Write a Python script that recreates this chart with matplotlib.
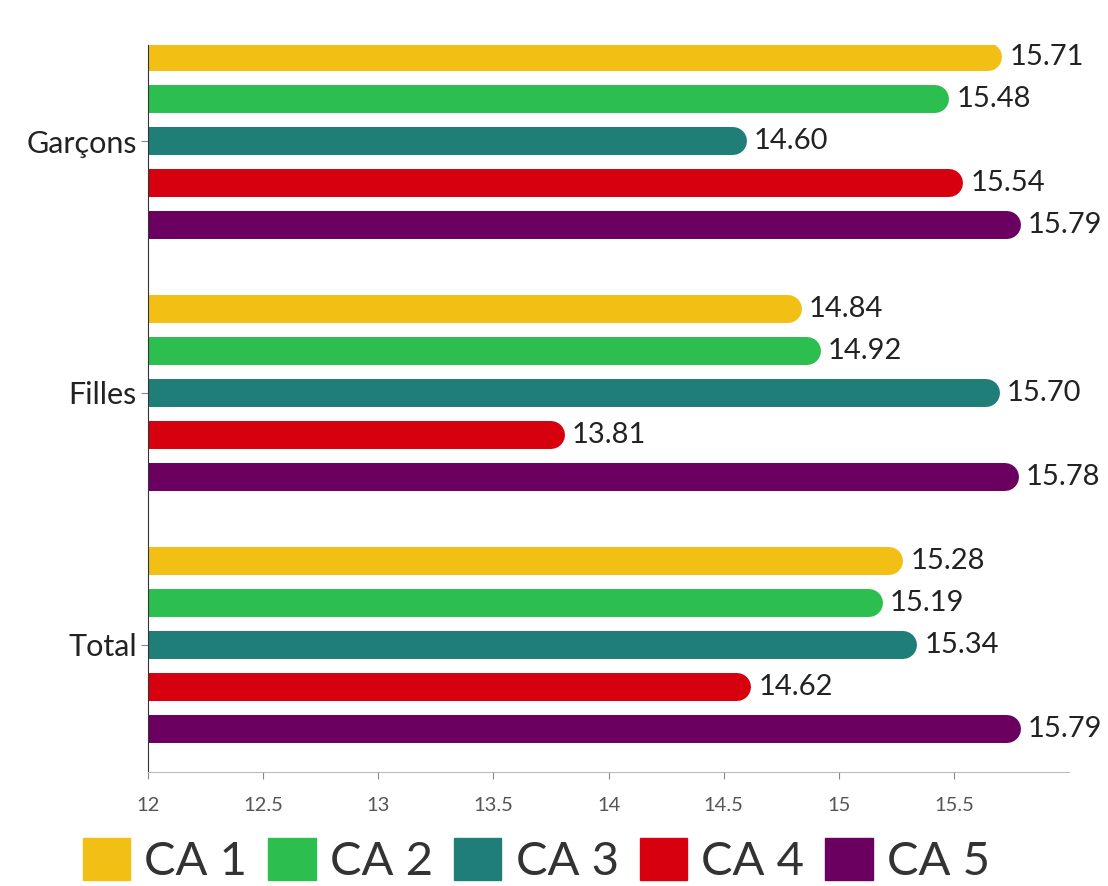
import numpy as np
import matplotlib.pyplot as plt
from matplotlib.patches import Patch

plt.rcParams['font.family'] = ['Lato', 'DejaVu Sans']

groups = ['Garçons', 'Filles', 'Total']
series = ['CA 1', 'CA 2', 'CA 3', 'CA 4', 'CA 5']
colors = ['#F2C014', '#2DBE50', '#1F7F78', '#D7000F', '#6B0060']
values = {
    'CA 1': [15.71, 14.84, 15.28],
    'CA 2': [15.48, 14.92, 15.19],
    'CA 3': [14.60, 15.70, 15.34],
    'CA 4': [15.54, 13.81, 14.62],
    'CA 5': [15.79, 15.78, 15.79],
}
xticks = [12, 12.5, 13, 13.5, 14, 14.5, 15, 15.5]

fig = plt.figure(figsize=(11.08, 8.86), dpi=100)
ax = fig.add_axes([0.1336, 0.1287, 0.8314, 0.8205])
xmin, xmax = 12, 16
ax.set_xlim(xmin, xmax)
ax.set_ylim(2.504, -0.381)

# bar geometry
step = 0.1667
bar_h = 0.111
ax_w_px = 0.8314 * 1108
ax_h_px = 0.8205 * 886
px_per_unit_y = ax_h_px / (2.504 + 0.381)
lw_px = bar_h * px_per_unit_y
lw_pt = lw_px * 72 / 100
r_data = (lw_px / 2) / (ax_w_px / (xmax - xmin))

for i, s in enumerate(series):
    for g, v in enumerate(values[s]):
        y = g + (i - 2) * step
        ax.plot([xmin - 1, v - r_data], [y, y], color=colors[i], lw=lw_pt,
                solid_capstyle='round', zorder=2)
        ax.text(v + 0.03, y, f'{v:.2f}', va='center', ha='left',
                fontsize=21, color='#222222', clip_on=False)

ax.set_yticks(range(len(groups)))
ax.set_yticklabels(groups, fontsize=22, color='#222222')
ax.set_xticks(xticks)
ax.set_xticklabels([f'{t:g}' for t in xticks], fontsize=14.5, color='#555555')
ax.tick_params(axis='y', length=5, color='#888888', pad=3)
ax.tick_params(axis='x', length=5, color='#888888', pad=13)

for sp in ['top', 'right']:
    ax.spines[sp].set_visible(False)
ax.spines['left'].set_color('#333333')
ax.spines['bottom'].set_color('#bbbbbb')

handles = [Patch(facecolor=c, edgecolor=c) for c in colors]
fig.legend(handles, series, loc='lower center', bbox_to_anchor=(0.484, -0.045),
           ncol=5, frameon=False, fontsize=34, handlelength=1.0, handleheight=1.0,
           handletextpad=0.3, columnspacing=0.45, labelcolor='#333333')

fig.savefig('out.png', dpi=100)
